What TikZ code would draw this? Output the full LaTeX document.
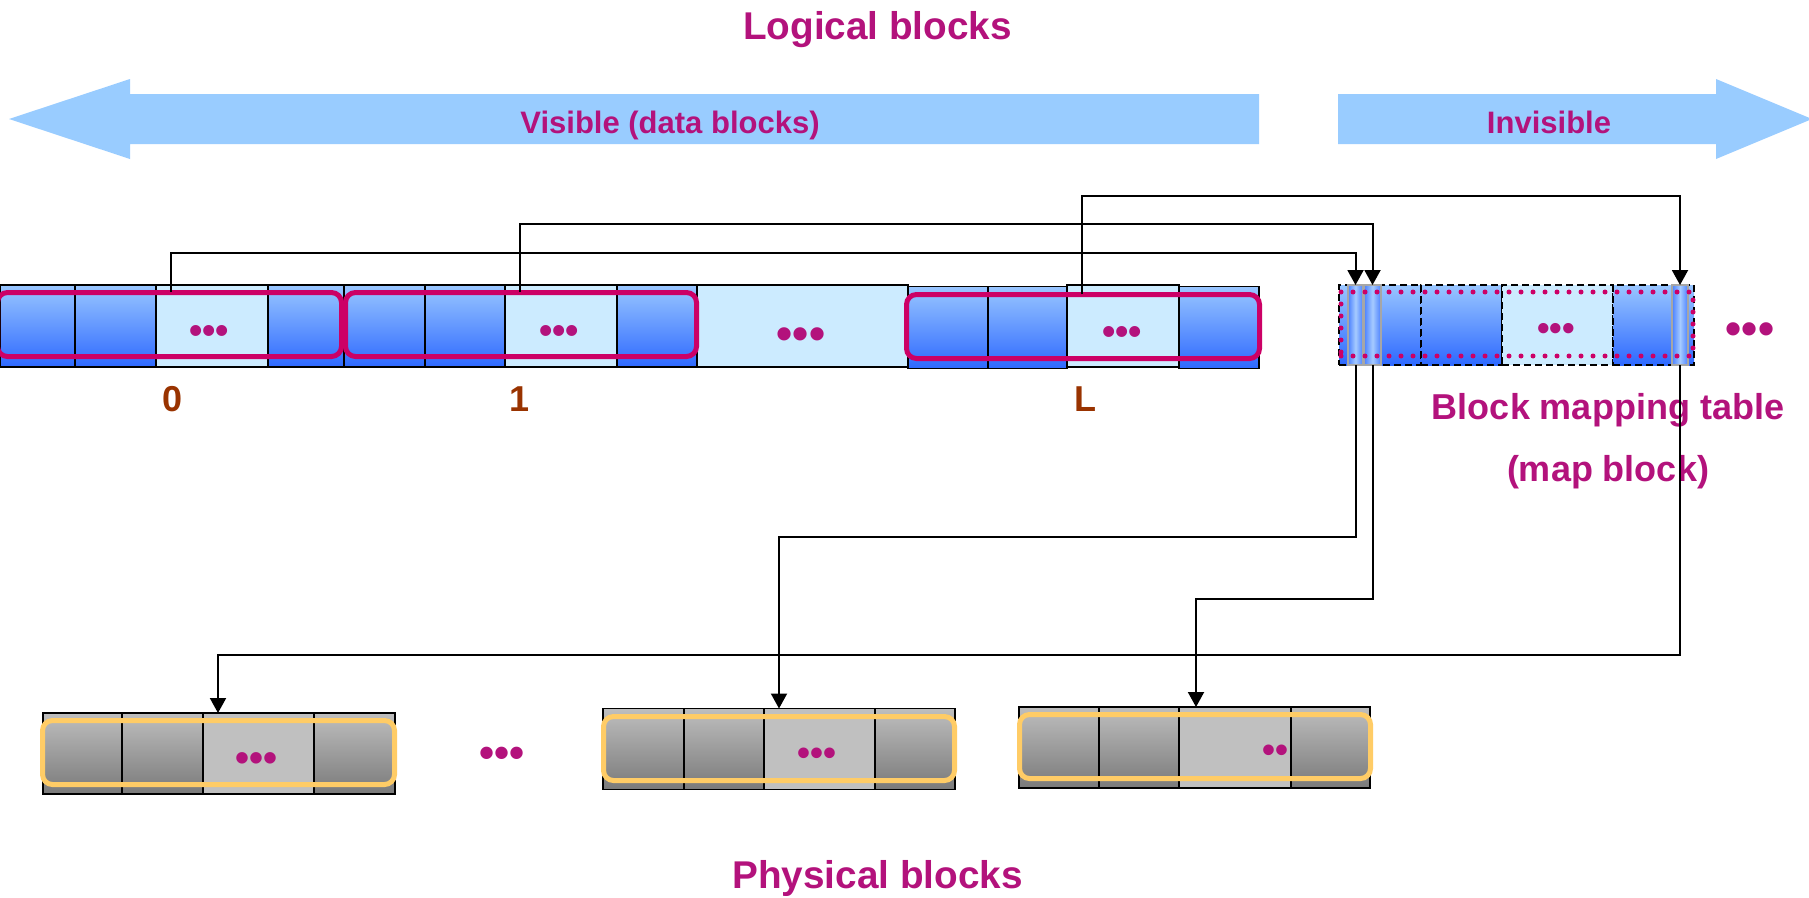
\documentclass[tikz,border=0pt]{standalone}
\usepackage{fontspec}
\setmainfont{Liberation Sans}
\usetikzlibrary{arrows.meta,calc}

\definecolor{magtext}{HTML}{B3127C}
\definecolor{boxpink}{HTML}{CC0066}
\definecolor{brownlab}{HTML}{993300}
\definecolor{arrowblue}{HTML}{99CCFF}
\definecolor{celltop}{HTML}{99C6FF}
\definecolor{cellbot}{HTML}{2E69FF}
\definecolor{celllight}{HTML}{CCEBFF}
\definecolor{stripedge}{HTML}{4A80FF}
\definecolor{stripmid}{HTML}{A6CBFF}
\definecolor{physlight}{HTML}{C0C0C0}
\definecolor{phystop}{HTML}{BEBEBE}
\definecolor{physbot}{HTML}{7A7A7A}
\definecolor{ringyellow}{HTML}{FFCC66}

\tikzset{
  cellbase/.style={inner sep=0pt, outer sep=0pt, anchor=west},
  lcell/.style={cellbase, draw=black, line width=1.2pt, minimum height=82pt},
  bluecell/.style={lcell, top color=celltop, bottom color=cellbot},
  lightcell/.style={lcell, fill=celllight},
  mcell/.style={cellbase, draw=black, line width=1.6pt, dash pattern=on 7pt off 4pt, minimum height=80pt},
  mblue/.style={mcell, top color=celltop, bottom color=cellbot},
  mlight/.style={mcell, fill=celllight},
  strip/.style={cellbase, draw=black!35, line width=1.2pt, minimum height=80pt,
    left color=stripedge, right color=stripedge, middle color=stripmid},
  pcell/.style={cellbase, draw=black, line width=1.2pt, minimum height=81pt},
  pgrey/.style={pcell, top color=phystop, bottom color=physbot},
  plight/.style={pcell, fill=physlight},
  grouping/.style={draw=boxpink, line width=5pt, rounded corners=10pt, inner sep=0pt},
  physring/.style={draw=ringyellow, line width=5pt, rounded corners=10pt, inner sep=0pt},
  maptable/.style={draw=boxpink, line width=5pt, dash pattern=on 0pt off 12pt, line cap=round, inner sep=0pt},
  conn/.style={draw=black, line width=2pt, -{Triangle[width=16pt,length=15pt]}},
  heading/.style={text=magtext, font=\fontsize{38.7}{46}\selectfont\bfseries, anchor=base, inner sep=0pt},
  bandtext/.style={text=magtext, font=\fontsize{31}{36}\selectfont\bfseries, anchor=base, inner sep=0pt},
  tabletext/.style={text=magtext, font=\fontsize{36}{42}\selectfont\bfseries, anchor=base, inner sep=0pt},
  indexlabel/.style={text=brownlab, font=\fontsize{36}{40}\selectfont\bfseries, anchor=base, inner sep=0pt},
  ellip/.style={text=magtext, inner sep=0pt, yshift={-0.24*#1},
    font=\fontsize{#1}{#1}\selectfont\bfseries},
}

% cell node: name, style, left x, right x, centre y
\newcommand\blockcell[5]{\node[#2, minimum width={#4-#3}] (#1) at (#3,#5) {};}

\begin{document}
\begin{tikzpicture}[x=1pt,y=-1pt]
\useasboundingbox (0,0) rectangle (1809,897);
\fill[white] (0,0) rectangle (1809,897);

% direction bands
\fill[arrowblue] (9,119) -- (130,79) -- (130,94) -- (1259,94) -- (1259,144)
  -- (130,144) -- (130,159) -- cycle;
\fill[arrowblue] (1338,94) -- (1716,94) -- (1716,79) -- (1812,119)
  -- (1716,159) -- (1716,144) -- (1338,144) -- cycle;

% headings and band labels
\node[heading] (logical) at (877.5,39.3) {Logical blocks};
\node[heading] (physical) at (877.5,888.3) {Physical blocks};
\node[bandtext] (visible) at (670,133) {Visible (data blocks)};
\node[bandtext] (invisible) at (1549,133) {Invisible};

% logical block row
\blockcell{l1}{bluecell}{0}{75}{326}
\blockcell{l2}{bluecell}{75}{156}{326}
\blockcell{l3}{lightcell}{156}{268}{326}
\blockcell{l4}{bluecell}{268}{344}{326}
\blockcell{l5}{bluecell}{344}{425}{326}
\blockcell{l6}{bluecell}{425}{505}{326}
\blockcell{l7}{lightcell}{505}{617}{326}
\blockcell{l8}{bluecell}{617}{697}{326}
\blockcell{lmid}{lightcell}{697}{908}{326}
\blockcell{l9}{bluecell}{908}{988}{327.5}
\blockcell{l10}{bluecell}{988}{1067}{327.5}
\blockcell{l11}{lightcell}{1067}{1179}{326}
\blockcell{l12}{bluecell}{1179}{1259}{327.5}

\node[ellip=38] (e0) at (209,325) {•••};
\node[ellip=38] (e1) at (559,325) {•••};
\node[ellip=46] (emid) at (801,328) {•••};
\node[ellip=38] (eL) at (1122,326) {•••};

% grouped logical blocks
\node[grouping, minimum width=344pt, minimum height=64pt] (g0) at (169.5,324.5) {};
\node[grouping, minimum width=351pt, minimum height=64pt] (g1) at (521,324.5) {};
\node[grouping, minimum width=353pt, minimum height=64pt] (gL) at (1083,326.5) {};

\node[indexlabel] (n0) at (173,411) {0};
\node[indexlabel] (n1) at (520,411) {1};
\node[indexlabel] (nL) at (1085,411) {L};

% block mapping table
\blockcell{m1}{mblue}{1339}{1421}{325}
\blockcell{m2}{mblue}{1421}{1502}{325}
\blockcell{m3}{mlight}{1502}{1613}{325}
\blockcell{m4}{mblue}{1613}{1694}{325}
\blockcell{s1}{strip}{1348}{1363}{325}
\blockcell{s2}{strip}{1364}{1381}{325}
\blockcell{s3}{strip}{1672}{1688}{325}
\node[maptable, minimum width=352pt, minimum height=64pt] (mapring) at (1517,324) {};
\node[ellip=36] (em) at (1556,323) {•••};
\node[ellip=46] (emore) at (1750,323) {•••};

\node[tabletext] (bmt) at (1608,419.3) {Block mapping table};
\node[tabletext] (mb) at (1608,481.7) {(map block)};

% physical blocks
\blockcell{p1a}{pgrey}{43}{122}{753.5}
\blockcell{p1b}{pgrey}{122}{203}{753.5}
\blockcell{p1c}{plight}{203}{314}{753.5}
\blockcell{p1d}{pgrey}{314}{395}{753.5}
\blockcell{p2a}{pgrey}{603}{684}{749}
\blockcell{p2b}{pgrey}{684}{764}{749}
\blockcell{p2c}{plight}{764}{875}{749}
\blockcell{p2d}{pgrey}{875}{955}{749}
\blockcell{p3a}{pgrey}{1019}{1099}{747.5}
\blockcell{p3b}{pgrey}{1099}{1179}{747.5}
\blockcell{p3c}{plight}{1179}{1291}{747.5}
\blockcell{p3d}{pgrey}{1291}{1370}{747.5}

\node[ellip=40] (ep1) at (257,752) {•••};
\node[ellip=37] (ep2) at (817,748) {•••};
\node[ellip=37] (ep3) at (1275,745) {••};
\node[ellip=43] (epm) at (502,747) {•••};

\node[physring, minimum width=352pt, minimum height=64pt] (r1) at (218.5,752.5) {};
\node[physring, minimum width=351pt, minimum height=64pt] (r2) at (779,748.5) {};
\node[physring, minimum width=351pt, minimum height=64pt] (r3) at (1195,746.5) {};

% connectors: logical blocks to map entries
\coordinate (a0) at ($(l3.north west)+(15,7)$);
\coordinate (a1) at ($(l7.north west)+(15,7)$);
\coordinate (aL) at ($(l11.north west)+(15,9)$);
\draw[conn] (a0) |- ($(s1.north)+(0,-32)$) -- (s1.north);
\draw[conn] (a1) |- ($(s2.north)+(0,-61)$) -- (s2.north);
\draw[conn] (aL) |- ($(s3.north)+(0,-89)$) -- (s3.north);

% connectors: map entries to physical blocks
\coordinate (b1) at ($(p1c.north west)+(15,0)$);
\coordinate (b2) at ($(p2c.north west)+(15,0)$);
\coordinate (b3) at ($(p3c.north west)+(17,0)$);
\draw[conn] (s1.south) -- ($(s1.south)+(0,172)$) -| (b2);
\draw[conn] (s2.south) -- ($(s2.south)+(0,234)$) -| (b3);
\draw[conn] (s3.south) -- ($(s3.south)+(0,290)$) -| (b1);
\end{tikzpicture}
\end{document}
